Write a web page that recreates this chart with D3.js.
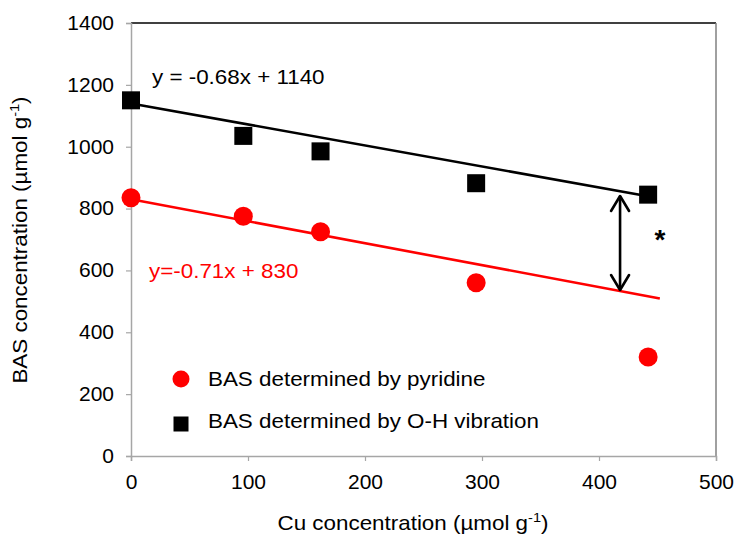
<!DOCTYPE html>
<html>
<head>
<meta charset="utf-8">
<script src="https://cdn.jsdelivr.net/npm/d3@7"></script>
<style>
  html, body { margin: 0; padding: 0; background: #fff; }
  svg { display: block; font-family: "Liberation Sans", Arial, sans-serif; }
</style>
</head>
<body>
<svg id="chart" width="738" height="538"></svg>
<script>
// Cu loading (µmol g-1) for each sample
const cuConc = [0, 96, 162, 295, 442];
// BAS measured by pyridine adsorption
const basPyridine = [835, 775, 725, 560, 320];
// BAS measured from the O-H vibration band
const basOH = [1150, 1035, 985, 882, 845];
// Linear fits (slope, intercept), their x extents and labels
const fitOH = [-0.68, 1140];
const fitPyridine = [-0.71, 830];
const fitRangeOH = [0, 443];
const fitRangePyridine = [0, 452];
const fitLabels = ["y = -0.68x + 1140", "y=-0.71x + 830"];
// Position of the difference arrow
const arrowX = [418];
const xTicks = [0, 100, 200, 300, 400, 500];
const yTicks = [0, 200, 400, 600, 800, 1000, 1200, 1400];
const legendLabels = ["BAS determined by pyridine", "BAS determined by O-H vibration"];

const FS = 20;      // base font size
const SX = 1.12;    // slightly wide lettering

const svg = d3.select("#chart");
const m = { left: 131, right: 716, top: 23, bottom: 456 };
const x = d3.scaleLinear().domain([0, 500]).range([m.left, m.right]);
const y = d3.scaleLinear().domain([0, 1400]).range([m.bottom, m.top]);

// text placed at (px, py), widened horizontally about its anchor
function label(g, px, py, anchor = "start") {
  return g.append("text")
    .attr("transform", `translate(${px},${py}) scale(${SX},1)`)
    .attr("text-anchor", anchor)
    .attr("font-size", FS)
    .attr("fill", "#000");
}

// plot frame: top and right
svg.append("line").attr("x1", m.left).attr("x2", m.right).attr("y1", m.top).attr("y2", m.top)
  .attr("stroke", "#000").attr("stroke-width", 1.3);
svg.append("line").attr("x1", m.right).attr("x2", m.right).attr("y1", m.top).attr("y2", m.bottom)
  .attr("stroke", "#808080").attr("stroke-width", 1.5);

// axes
const xAxis = svg.append("g").attr("transform", `translate(0,${m.bottom})`)
  .call(d3.axisBottom(x).tickValues(xTicks).tickSize(5).tickPadding(14).tickFormat(d3.format("d")));
const yAxis = svg.append("g").attr("transform", `translate(${m.left},0)`)
  .call(d3.axisLeft(y).tickValues(yTicks).tickSize(5).tickPadding(17).tickFormat(d3.format("d")));
[xAxis, yAxis].forEach(g => {
  g.select(".domain").attr("stroke", "#a6a6a6").attr("stroke-width", 1.5);
  g.selectAll(".tick line").attr("stroke", "#a6a6a6").attr("stroke-width", 1.2);
  g.selectAll(".tick text").attr("fill", "#000").attr("font-size", FS)
    .attr("font-family", "Liberation Sans, Arial, sans-serif");
});
xAxis.selectAll(".tick text").attr("transform", "scale(1.05,1)");
yAxis.selectAll(".tick text").attr("x", null)
  .attr("transform", "translate(-17,0) scale(1.05,1)");

// trend lines
const fitLine = f => d3.line()
  .x(d => x(d))
  .y(d => y(f[0] * d + f[1]));
svg.append("path").datum(fitRangeOH).attr("d", fitLine(fitOH))
  .attr("fill", "none").attr("stroke", "#000").attr("stroke-width", 2.6);
svg.append("path").datum(fitRangePyridine).attr("d", fitLine(fitPyridine))
  .attr("fill", "none").attr("stroke", "#ff0000").attr("stroke-width", 2.6);

// markers
const sq = 18;
svg.append("g").selectAll("rect").data(cuConc).join("rect")
  .attr("x", (d) => x(d) - sq / 2)
  .attr("y", (d, i) => y(basOH[i]) - sq / 2)
  .attr("width", sq).attr("height", sq).attr("fill", "#000");
svg.append("g").selectAll("circle").data(cuConc).join("circle")
  .attr("cx", d => x(d))
  .attr("cy", (d, i) => y(basPyridine[i]))
  .attr("r", 9.5).attr("fill", "#ff0000");

// fit equations
label(svg, 152, 84).text(fitLabels[0]);
label(svg, 149, 278).attr("fill", "#ff0000").text(fitLabels[1]);

// double-headed arrow between the two fits
const ax = x(arrowX[0]);
const yTop = 196;
const yBot = 290;
const arrow = svg.append("g").attr("stroke", "#000").attr("stroke-width", 2.6).attr("fill", "none")
  .attr("stroke-linecap", "round").attr("stroke-linejoin", "round");
arrow.append("line").attr("x1", ax).attr("x2", ax).attr("y1", yTop + 1).attr("y2", yBot - 1);
arrow.append("polyline").attr("points", `${ax - 9},${yTop + 15} ${ax},${yTop} ${ax + 9},${yTop + 15}`);
arrow.append("polyline").attr("points", `${ax - 9},${yBot - 15} ${ax},${yBot} ${ax + 9},${yBot - 15}`);
svg.append("text").attr("x", 660).attr("y", 249)
  .attr("font-size", 28).attr("font-weight", "bold").attr("text-anchor", "middle").text("*");

// legend
const lg = svg.append("g");
lg.append("circle").attr("cx", 181).attr("cy", 379).attr("r", 8.5).attr("fill", "#ff0000");
lg.append("rect").attr("x", 173.5).attr("y", 416.5).attr("width", 15).attr("height", 15).attr("fill", "#000");
legendLabels.forEach((t, i) => label(lg, 208, 386 + i * 42).text(t));

// axis titles
const xt = label(svg, 413, 530, "middle");
xt.append("tspan").text("Cu concentration (µmol g");
xt.append("tspan").attr("font-size", 13).attr("dy", -8).text("-1");
xt.append("tspan").attr("dy", 8).text(")");
const yt = svg.append("text").attr("transform", `translate(27,240) rotate(-90) scale(${SX},1)`)
  .attr("text-anchor", "middle").attr("font-size", FS).attr("fill", "#000");
yt.append("tspan").text("BAS concentration (µmol g");
yt.append("tspan").attr("font-size", 13).attr("dy", -8).text("-1");
yt.append("tspan").attr("dy", 8).text(")");
</script>
</body>
</html>
